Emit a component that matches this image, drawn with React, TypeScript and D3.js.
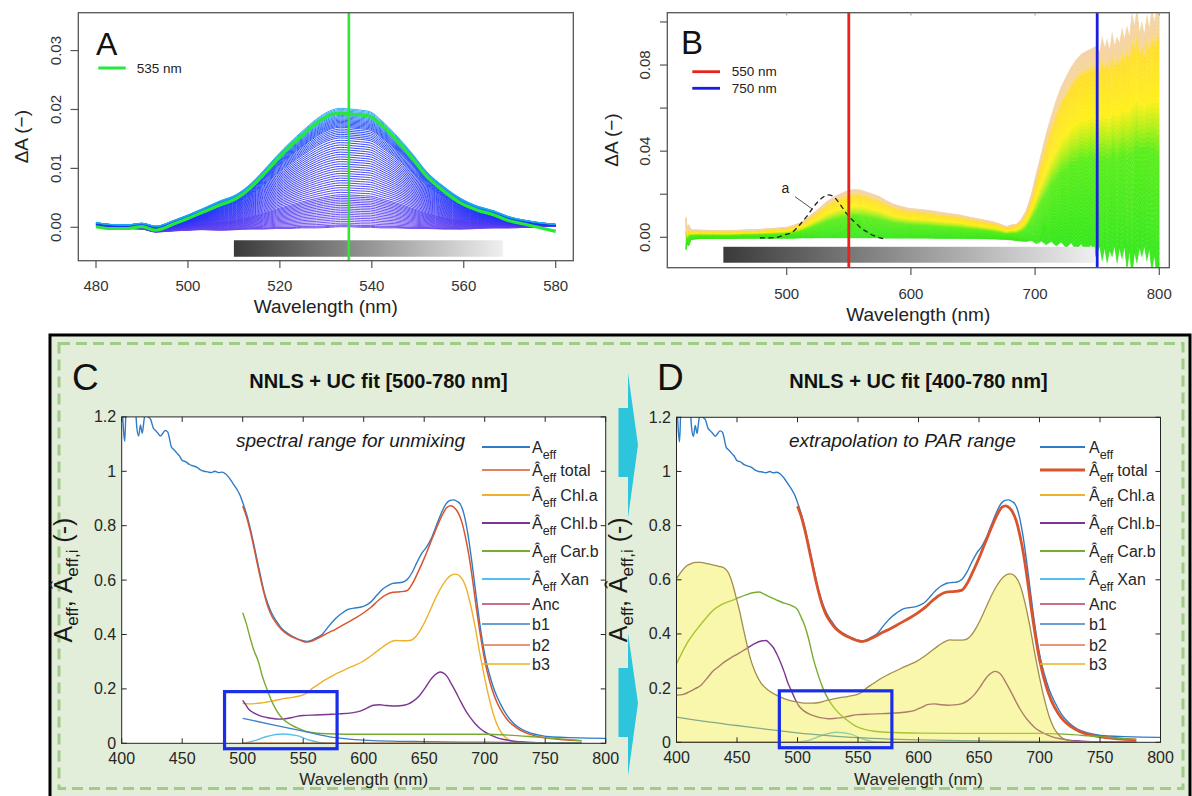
import React from "react";
import * as d3 from "d3";

type P = [number, number];
const FONT = "'Liberation Sans', Arial, Helvetica, sans-serif";

// ---------------- Panel A data ----------------
const A_WL = [480,483,486.6,490,493,497,500,503,507,510.6,513.5,516.4,519.3,522.2,525,528,531,533.2,535,537.5,539.7,542,545,548.5,552,555.7,559.4,563,566.6,569.5,574,580];
const A_GREEN = [0.0001,-0.0002,-0.0002,0.0001,-0.0005,0.0006,0.0015,0.0025,0.0038,0.0049,0.0066,0.0089,0.0114,0.0137,0.0157,0.0177,0.0191,0.0194,0.0192,0.0191,0.0188,0.0174,0.0151,0.012,0.0086,0.0061,0.0041,0.0029,0.0021,0.0012,0.0004,-0.0007];
const A_TOP = [0.0008,0.0005,0.0004,0.0007,0.0002,0.0012,0.0021,0.0031,0.0045,0.0056,0.0073,0.0096,0.0121,0.0144,0.0164,0.0184,0.0198,0.0202,0.0201,0.0199,0.0196,0.0182,0.0159,0.0128,0.0094,0.0069,0.0049,0.0036,0.0028,0.0019,0.0011,0.0005];
const A_BASE = [0.0002,-0.0001,-0.0002,-0.0003,-0.0008,-0.0006,-0.0005,-0.0004,-0.0005,-0.0004,-0.0003,-0.0003,-0.0002,-0.0002,-0.0001,-0.0001,0,0.0001,0.0001,0,0,-0.0001,-0.0001,-0.0002,-0.0002,-0.0003,-0.0003,-0.0002,-0.0001,-0.0001,0,0.0002];
const A_LEVELS = [0,0.008,0.016,0.03,0.045,0.06,0.075,0.09,0.105,0.12,0.135,0.15,0.165,0.18,0.195,0.21,0.225,0.24,0.255,0.27,0.29,0.31,0.33,0.35,0.37,0.39,0.41,0.43,0.45,0.47,0.49,0.51,0.53,0.55,0.57,0.59,0.61,0.63,0.65,0.67,0.69,0.71,0.73,0.75,0.765,0.78,0.795,0.81,0.825,0.84,0.85,0.86,0.87,0.88,0.89,0.9,0.91,0.92,0.93,0.94,0.95,0.96,0.97,0.98,0.99,1.0];
const A_XTICKS = [480,500,520,540,560,580];
const A_YTICKS = [0,0.01,0.02,0.03];
const A_MARK = 535;
const A_BAR = { from: 510, to: 568.5, top: -0.0022, bottom: -0.005 };

// ---------------- Panel B data ----------------
const B_WL = [419,420,421,423,430,440,452,465,478,490,500,505,511,516,521,527,532,538,543,548,554,559,564,570,575,580,586,593,599,606,613,620,626,633,640,646,653,660,666,672,677,681,685,689,693,697,701,705,709,713,717,721,725,729,733,737,741,745,749,752,754,756,758,760,762,764,766,768,770,772,774,776,778,780,782,784,786,788,790,792,794,796,798,800];
const B_TOP = [0.0096,0.002,0.006,0.0035,0.0034,0.0032,0.0031,0.0034,0.0037,0.0042,0.0047,0.0055,0.0068,0.0088,0.0112,0.014,0.0166,0.0188,0.0202,0.0215,0.0223,0.0221,0.0212,0.02,0.0189,0.0172,0.0155,0.0143,0.0135,0.0131,0.0127,0.0121,0.0115,0.011,0.0104,0.0096,0.0088,0.008,0.0073,0.0062,0.005,0.0058,0.0062,0.0085,0.0127,0.02,0.0298,0.039,0.0484,0.0565,0.0639,0.07,0.0747,0.079,0.0825,0.085,0.0864,0.0875,0.0887,0.086,0.093,0.088,0.092,0.087,0.095,0.089,0.093,0.09,0.097,0.092,0.098,0.093,0.104,0.098,0.106,0.095,0.1,0.094,0.103,0.097,0.106,0.1,0.106,0.104];
const B_BASE = [-0.006,-0.002,-0.004,-0.001,-0.0006,-0.0005,-0.0005,-0.0004,-0.0004,-0.0004,-0.0004,-0.0004,-0.0003,-0.0003,-0.0003,-0.0003,-0.0003,-0.0003,-0.0003,-0.0003,-0.0003,-0.0003,-0.0003,-0.0003,-0.0003,-0.0004,-0.0004,-0.0004,-0.0004,-0.0004,-0.0004,-0.0005,-0.0005,-0.0005,-0.0005,-0.0006,-0.0006,-0.0007,-0.0008,-0.0009,-0.001,-0.0012,-0.0015,-0.0018,-0.002,-0.0015,-0.003,-0.0018,-0.0035,-0.002,-0.004,-0.0022,-0.005,-0.0025,-0.006,-0.003,-0.007,-0.0035,-0.009,-0.004,-0.011,-0.005,-0.012,-0.006,-0.009,-0.004,-0.012,-0.005,-0.01,-0.004,-0.015,-0.006,-0.018,-0.007,-0.012,-0.005,-0.009,-0.004,-0.011,-0.005,-0.016,-0.008,-0.018,-0.016];
const B_LEVELS = [0,0.015,0.03,0.05,0.07,0.09,0.11,0.13,0.15,0.17,0.19,0.21,0.23,0.25,0.27,0.29,0.31,0.33,0.35,0.37,0.39,0.41,0.43,0.45,0.47,0.49,0.51,0.53,0.55,0.57,0.59,0.61,0.63,0.65,0.67,0.69,0.71,0.73,0.75,0.77,0.79,0.81,0.83,0.85,0.87,0.89,0.905,0.92,0.935,0.95,0.965,0.98,1.0];
const B_XTICKS = [500,600,700,800];
const B_YTICKS = [0,0.02,0.04,0.06,0.08,0.1];
const B_YLABELS = [0,0.04,0.08];
const B_MARKS = [{ nm: 550, color: "#e8221c", label: "550 nm" }, { nm: 750, color: "#1a1ee0", label: "750 nm" }];
const B_A_WL = [478.5,485,492,498,505,510,516,520,524,529,533.5,537,540.3,544,548.3,552,556.4,560,564.4,568,572.4,576,580.5];
const B_A_VAL = [-0.0002,-0.0003,0,0.0011,0.0026,0.0055,0.0096,0.0128,0.0158,0.0185,0.0197,0.0192,0.0174,0.0145,0.011,0.0085,0.0062,0.0042,0.0026,0.0013,0.0003,-0.0004,-0.0009];
const B_BAR = { from: 449, to: 748.2, top: -0.0044, bottom: -0.0118 };

// ---------------- Panels C / D data ----------------
const WL_TICKS = [400,450,500,550,600,650,700,750,800];
const ABS_TICKS = [0,0.2,0.4,0.6,0.8,1,1.2];
const ABS_LABELS = ["0","0.2","0.4","0.6","0.8","1","1.2"];

const AEFF: P[] = [[400,1.3],[401.5,1.15],[402.5,1.11],[403.5,1.22],[405,1.28],[408,1.32],[411,1.26],[412.5,1.16],[414,1.13],[415.5,1.17],[417,1.14],[418.5,1.19],[420,1.22],[422,1.2],[424,1.19],[426,1.16],[428,1.15],[430,1.14],[432,1.13],[434,1.14],[436,1.15],[438,1.145],[439.5,1.12],[441,1.09],[443,1.08],[446,1.065],[448,1.055],[450,1.04],[453,1.035],[456,1.025],[459,1.02],[462,1.015],[465,1.005],[468,1.0],[471,0.998],[474,0.995],[477,1.0],[480,0.995],[483,0.997],[486,0.99],[489,0.975],[492,0.955],[495,0.935],[498,0.91],[500,0.885],[503,0.845],[506,0.795],[509,0.735],[512,0.672],[515,0.61],[518,0.552],[521,0.51],[524,0.478],[528,0.448],[532,0.423],[538,0.402],[544,0.387],[549,0.378],[553,0.374],[558,0.381],[562,0.39],[566,0.402],[571,0.43],[577,0.46],[582,0.478],[587,0.492],[592,0.497],[597,0.5],[602,0.508],[606,0.52],[611,0.545],[616,0.568],[620,0.58],[624,0.588],[628,0.59],[632,0.592],[636,0.602],[640,0.628],[644,0.665],[648,0.698],[652,0.722],[656,0.755],[660,0.8],[664,0.845],[668,0.88],[671,0.892],[674,0.895],[677,0.89],[680,0.878],[683,0.84],[686,0.772],[689,0.68],[692,0.575],[695,0.47],[698,0.378],[701,0.305],[704,0.252],[708,0.195],[713,0.145],[718,0.105],[724,0.073],[731,0.05],[739,0.036],[747,0.028],[754,0.024],[770,0.021],[785,0.019],[800,0.018]];
const TOTAL: P[] = [[500,0.872],[503,0.835],[506,0.785],[509,0.725],[512,0.662],[515,0.6],[518,0.545],[521,0.5],[524,0.468],[528,0.44],[532,0.418],[538,0.398],[544,0.385],[549,0.376],[553,0.372],[558,0.377],[563,0.388],[570,0.405],[577,0.42],[585,0.44],[593,0.46],[600,0.48],[606,0.5],[612,0.525],[618,0.545],[624,0.555],[630,0.557],[636,0.562],[640,0.585],[645,0.63],[650,0.68],[655,0.735],[660,0.79],[665,0.84],[669,0.868],[672,0.873],[675,0.866],[678,0.848],[681,0.815],[684,0.76],[687,0.69],[690,0.6],[693,0.5],[696,0.41],[699,0.33],[702,0.265],[706,0.2],[710,0.152],[715,0.11],[720,0.08],[726,0.058],[733,0.04],[742,0.027],[752,0.019],[765,0.013],[780,0.009]];
const CHLA_C: P[] = [[500,0.147],[505,0.145],[510,0.146],[515,0.148],[520,0.152],[525,0.156],[530,0.16],[535,0.165],[540,0.168],[545,0.172],[550,0.178],[553,0.185],[557,0.2],[562,0.215],[568,0.233],[575,0.25],[582,0.265],[590,0.282],[598,0.298],[604,0.315],[610,0.335],[616,0.355],[621,0.37],[626,0.378],[632,0.377],[638,0.378],[643,0.392],[648,0.425],[653,0.47],[658,0.52],[663,0.565],[668,0.6],[672,0.617],[676,0.622],[680,0.612],[684,0.58],[688,0.515],[692,0.43],[696,0.33],[700,0.24],[704,0.16],[708,0.095],[712,0.052],[716,0.027],[720,0.013],[726,0.005],[735,0.001],[780,0]];
const CHLA_D: P[] = [[400,0.604],[404,0.63],[408,0.65],[412,0.66],[416,0.664],[420,0.664],[425,0.66],[430,0.655],[435,0.65],[440,0.642],[443,0.625],[446,0.59],[449,0.54],[452,0.487],[455,0.425],[458,0.365],[461,0.31],[465,0.26],[470,0.218],[475,0.195],[480,0.18],[486,0.167],[492,0.157],[498,0.15],[505,0.145],[512,0.145],[518,0.147],[524,0.155],[530,0.16],[535,0.165],[540,0.168],[545,0.172],[550,0.178],[553,0.185],[557,0.2],[562,0.215],[568,0.233],[575,0.25],[582,0.265],[590,0.282],[598,0.298],[604,0.315],[610,0.335],[616,0.355],[621,0.37],[626,0.378],[632,0.377],[638,0.378],[643,0.392],[648,0.425],[653,0.47],[658,0.52],[663,0.565],[668,0.6],[672,0.617],[676,0.622],[680,0.612],[684,0.58],[688,0.515],[692,0.43],[696,0.33],[700,0.24],[704,0.16],[708,0.095],[712,0.052],[716,0.027],[720,0.013],[726,0.005],[735,0.001],[780,0]];
const CHLB_C: P[] = [[500,0.158],[502,0.145],[505,0.125],[510,0.11],[515,0.1],[520,0.095],[525,0.091],[530,0.089],[535,0.09],[540,0.094],[545,0.099],[550,0.102],[560,0.104],[570,0.106],[580,0.108],[590,0.112],[597,0.118],[603,0.13],[608,0.14],[613,0.142],[618,0.139],[624,0.137],[630,0.138],[636,0.143],[641,0.155],[646,0.175],[651,0.205],[655,0.232],[659,0.252],[663,0.262],[666,0.258],[669,0.245],[672,0.222],[676,0.19],[680,0.155],[684,0.122],[688,0.095],[692,0.073],[696,0.055],[700,0.042],[705,0.03],[710,0.021],[716,0.014],[724,0.008],[735,0.004],[750,0.001],[780,0]];
const CHLB_D: P[] = [[400,0.174],[405,0.176],[410,0.185],[415,0.197],[420,0.21],[425,0.235],[430,0.262],[435,0.28],[440,0.298],[445,0.312],[450,0.325],[455,0.338],[460,0.352],[465,0.365],[470,0.374],[474,0.376],[477,0.365],[480,0.35],[483,0.325],[486,0.295],[489,0.26],[492,0.22],[495,0.19],[498,0.16],[501,0.135],[505,0.117],[510,0.104],[515,0.096],[520,0.09],[525,0.087],[530,0.088],[535,0.09],[540,0.094],[545,0.099],[550,0.102],[560,0.104],[570,0.106],[580,0.108],[590,0.112],[597,0.118],[603,0.13],[608,0.14],[613,0.142],[618,0.139],[624,0.137],[630,0.138],[636,0.143],[641,0.155],[646,0.175],[651,0.205],[655,0.232],[659,0.252],[663,0.262],[666,0.258],[669,0.245],[672,0.222],[676,0.19],[680,0.155],[684,0.122],[688,0.095],[692,0.073],[696,0.055],[700,0.042],[705,0.03],[710,0.021],[716,0.014],[724,0.008],[735,0.004],[750,0.001],[780,0]];
const CARB_C: P[] = [[500,0.48],[503,0.44],[506,0.39],[509,0.345],[513,0.3],[516,0.25],[520,0.2],[524,0.155],[528,0.12],[533,0.09],[540,0.068],[547,0.053],[553,0.043],[560,0.038],[570,0.035],[600,0.033],[650,0.033],[700,0.033],[720,0.03],[740,0.024],[760,0.017],[780,0.01]];
const CARB_D: P[] = [[400,0.29],[405,0.335],[410,0.375],[415,0.407],[420,0.435],[425,0.462],[430,0.487],[435,0.503],[440,0.514],[446,0.524],[452,0.535],[458,0.545],[463,0.552],[468,0.555],[472,0.548],[477,0.537],[482,0.527],[487,0.517],[492,0.51],[496,0.503],[500,0.49],[503,0.462],[506,0.43],[509,0.385],[513,0.31],[517,0.25],[521,0.2],[526,0.155],[532,0.118],[540,0.085],[548,0.06],[556,0.047],[565,0.04],[580,0.036],[600,0.034],[650,0.033],[700,0.033],[720,0.03],[740,0.024],[760,0.017],[780,0.01]];
const XAN_C: P[] = [[500,0],[510,0.01],[520,0.025],[533,0.034],[545,0.028],[555,0.012],[565,0.002],[575,0]];
const XAN_D: P[] = [[500,0],[510,0.008],[520,0.025],[532,0.037],[544,0.03],[553,0.014],[562,0.003],[572,0]];
const B1_C: P[] = [[500,0.092],[525,0.068],[550,0.045],[575,0.022],[600,0.012],[650,0.006],[700,0.004],[780,0.002]];
const B1_D: P[] = [[400,0.093],[425,0.076],[450,0.062],[475,0.048],[500,0.035],[525,0.025],[550,0.017],[575,0.012],[600,0.009],[650,0.005],[700,0.003],[780,0.001]];
const ZERO_C: P[] = [[500,0],[780,0]];
const ZERO_D: P[] = [[400,0],[780,0]];
const BOX_WL: P = [485, 578];
const BOX_ABS: P = [-0.02, 0.19];

const LEGEND = [
  { key: "aeff", main: "A", sub: "eff", rest: "" },
  { key: "total", main: "Â", sub: "eff", rest: "total" },
  { key: "chla", main: "Â", sub: "eff", rest: "Chl.a" },
  { key: "chlb", main: "Â", sub: "eff", rest: "Chl.b" },
  { key: "carb", main: "Â", sub: "eff", rest: "Car.b" },
  { key: "xan", main: "Â", sub: "eff", rest: "Xan" },
  { key: "anc", main: "Anc", sub: "", rest: "" },
  { key: "b1", main: "b1", sub: "", rest: "" },
  { key: "b2", main: "b2", sub: "", rest: "" },
  { key: "b3", main: "b3", sub: "", rest: "" },
];
const LEGEND_ROWS = [447, 470, 495, 523, 551, 579, 604, 624, 645, 664];

const COLORS: Record<string, string> = {
  aeff: "#2f7cc6", total: "#d9542b", chla: "#eeb12a", chlb: "#7e3592", carb: "#77ac30",
  xan: "#55bfee", anc: "#b8405e", b1: "#3a80c4", b2: "#e07553", b3: "#edb120",
};

const lineP = (xs: any, ys: any, pts: P[]) =>
  d3.line<P>().x(d => xs(d[0])).y(d => ys(d[1])).curve(d3.curveMonotoneX)(pts) || "";

function SpectraPanel(props: any) {
  const { id, xr, yr, curves, patch, title, titleX, note, noteX, letter, letterX, lx0, lx1, ltx, totalW, labelX } = props;
  const x = d3.scaleLinear().domain([400, 800]).range(xr);
  const y = d3.scaleLinear().domain([0, 1.2]).range(yr);
  const [L, R] = xr;
  const [B, T] = yr;
  const ink = "#262626";
  return (
    <g>
      <defs>
        <clipPath id={id}><rect x={L} y={T} width={R - L} height={B - T} /></clipPath>
      </defs>
      <text x={letterX} y={390} fontSize={37} fill="#111">{letter}</text>
      <text x={titleX} y={388} fontSize={20} fontWeight="bold" textAnchor="middle" fill="#111">{title}</text>
      <rect x={L} y={T} width={R - L} height={B - T} fill="#fff" />
      <g clipPath={`url(#${id})`}>
        {curves.map((c: any) => (
          <path key={c.key} d={lineP(x, y, c.data)} fill="none" stroke={COLORS[c.key]}
            strokeWidth={c.key === "total" ? totalW : (c.w || 1.4)} />
        ))}
        {patch && (
          <g>
            <path d={d3.area<P>().x(d => x(d[0])).y0(y(0)).y1(d => y(d[1])).curve(d3.curveMonotoneX)(patch) || ""}
              fill="#f0ec30" fillOpacity={0.4} stroke="none" />
            <path d={lineP(x, y, patch)} fill="none" stroke="#a38d4c" strokeWidth={1.3} />
          </g>
        )}
      </g>
      <rect x={L} y={T} width={R - L} height={B - T} fill="none" stroke={ink} strokeWidth={1} />
      {WL_TICKS.map(t => (
        <g key={"xt" + t}>
          <line x1={x(t)} x2={x(t)} y1={B} y2={B - 5} stroke={ink} />
          <line x1={x(t)} x2={x(t)} y1={T} y2={T + 5} stroke={ink} />
          <text x={x(t)} y={B + 21} fontSize={16} textAnchor="middle" fill={ink}>{t}</text>
        </g>
      ))}
      {ABS_TICKS.map((t, i) => (
        <g key={"yt" + t}>
          <line x1={L} x2={L + 5} y1={y(t)} y2={y(t)} stroke={ink} />
          <line x1={R} x2={R - 5} y1={y(t)} y2={y(t)} stroke={ink} />
          <text x={L - 5.5} y={y(t) + 5.5} fontSize={16} textAnchor="end" fill={ink}>{ABS_LABELS[i]}</text>
        </g>
      ))}
      <rect x={x(BOX_WL[0])} y={y(BOX_ABS[1])} width={x(BOX_WL[1]) - x(BOX_WL[0])} height={y(BOX_ABS[0]) - y(BOX_ABS[1])}
        fill="none" stroke="#1a2ee8" strokeWidth={3.2} />
      <text x={noteX} y={447} fontSize={19} fontStyle="italic" fill="#1a1a1a">{note}</text>
      {LEGEND.map((it, i) => {
        const ry = LEGEND_ROWS[i];
        const thick = i < 6;
        return (
          <g key={it.key}>
            <line x1={lx0} x2={lx1} y1={ry} y2={ry} stroke={COLORS[it.key]}
              strokeWidth={it.key === "total" ? totalW : thick ? 2 : 1.3} />
            <text x={ltx} y={ry + 5.5} fontSize={16} fill={ink}>
              <tspan>{it.main}</tspan>
              {it.sub ? <tspan fontSize={12.5} dy={6}>{it.sub}</tspan> : null}
              {it.rest ? <tspan dy={-6} dx={4}>{it.rest}</tspan> : null}
            </text>
          </g>
        );
      })}
      <text x={(L + R) / 2} y={785} fontSize={17} textAnchor="middle" fill={ink}>Wavelength (nm)</text>
      <text transform={`translate(${labelX}, ${(T + B) / 2}) rotate(-90)`} fontSize={25} textAnchor="middle" fill="#1a1a1a">
        <tspan>A</tspan><tspan fontSize={17} dy={6}>eff</tspan><tspan dy={-6}>, Â</tspan>
        <tspan fontSize={17} dy={6}>eff,i</tspan><tspan dy={-6}> (-)</tspan>
      </text>
    </g>
  );
}

export default function App() {
  // ---- Panel A scales
  const xA = d3.scaleLinear().domain([476.15, 583.83]).range([78.3, 573.3]);
  const yA = d3.scaleLinear().domain([-0.00567, 0.03643]).range([260.7, 12.7]);
  const aColor = d3.scaleLinear<string>().domain([0, 0.35, 0.7, 0.9, 0.94, 1])
    .range(["#6a46ee", "#3e36f4", "#1f30fa", "#1c4ef8", "#1c86f4", "#1eaaf2"]);
  const aCurves = A_LEVELS.map(f => A_WL.map((w, k) => [w, A_BASE[k] + f * (A_TOP[k] - A_BASE[k])] as P));
  const aGreen = A_WL.map((w, k) => [w, A_GREEN[k]] as P);
  const lineA = d3.line<P>().x(d => xA(d[0])).y(d => yA(d[1])).curve(d3.curveMonotoneX);

  // ---- Panel B scales
  const xB = d3.scaleLinear().domain([403.87, 808.05]).range([667.3, 1169.3]);
  const yB = d3.scaleLinear().domain([-0.01411, 0.1043]).range([267.7, 12.7]);
  const bColor = d3.scaleLinear<string>().domain([0, 0.45, 0.56, 0.66, 0.88, 0.92, 1])
    .range(["#34e81a", "#5cee1e", "#b8f018", "#fff01c", "#ffde2e", "#f7d69a", "#f5d2a6"]);
  const bLevel = (f: number) => B_WL.map((w, k) => B_BASE[k] + f * (B_TOP[k] - B_BASE[k]));
  const bBands = B_LEVELS.slice(1).map((f, i) => {
    const lo = bLevel(B_LEVELS[i]);
    const hi = bLevel(f);
    const pts = B_WL.map((w, k) => ({ w, lo: lo[k], hi: hi[k] }));
    return {
      d: d3.area<any>().x(p => xB(p.w)).y0(p => yB(p.lo)).y1(p => yB(p.hi))(pts) || "",
      c: bColor((B_LEVELS[i] + f) / 2),
    };
  });
  const bA = B_A_WL.map((w, k) => [w, B_A_VAL[k]] as P);
  const lineB = d3.line<P>().x(d => xB(d[0])).y(d => yB(d[1])).curve(d3.curveMonotoneX);

  const axisInk = "#555";
  const tickInk = "#333";

  const arrow = (top: number, sTop: number, apex: number, sBot: number, bot: number) =>
    `M628,${top} L638,${apex} L628,${bot} L628,${sBot} L618.5,${sBot} L618.5,${sTop} L628,${sTop} Z`;

  return (
    <svg width={1192} height={796} style={{ position: "absolute", left: 0, top: 0, background: "#fff" }} fontFamily={FONT}>
      <defs>
        <clipPath id="clipA"><rect x={78.3} y={12.7} width={495} height={248} /></clipPath>
        <clipPath id="clipB"><rect x={667.3} y={12.7} width={502} height={255} /></clipPath>
        <linearGradient id="grayGrad" x1="0" x2="1" y1="0" y2="0">
          <stop offset="0" stopColor="#3a3a3a" />
          <stop offset="1" stopColor="#efefef" />
        </linearGradient>
      </defs>

      {/* ================= Panel A ================= */}
      <g clipPath="url(#clipA)">
        {aCurves.map((c, i) => (
          <path key={i} d={lineA(c) || ""} fill="none" stroke={aColor(A_LEVELS[i])} strokeWidth={1} strokeOpacity={0.9} />
        ))}
        <path d={lineA(aGreen) || ""} fill="none" stroke="#25e83a" strokeWidth={3.2} />
      </g>
      <rect x={xA(A_BAR.from)} y={yA(A_BAR.top)} width={xA(A_BAR.to) - xA(A_BAR.from)} height={yA(A_BAR.bottom) - yA(A_BAR.top)} fill="url(#grayGrad)" />
      <line x1={xA(A_MARK)} x2={xA(A_MARK)} y1={12.7} y2={260.7} stroke="#2ee82e" strokeWidth={2.6} />
      <rect x={78.3} y={12.7} width={495} height={248} fill="none" stroke={axisInk} strokeWidth={1.3} />
      {A_XTICKS.map(t => (
        <g key={"ax" + t}>
          <line x1={xA(t)} x2={xA(t)} y1={260.7} y2={268} stroke={axisInk} strokeWidth={1.2} />
          <text x={xA(t)} y={291} fontSize={15} textAnchor="middle" fill={tickInk}>{t}</text>
        </g>
      ))}
      {A_YTICKS.map(t => (
        <g key={"ay" + t}>
          <line x1={70.5} x2={78.3} y1={yA(t)} y2={yA(t)} stroke={axisInk} strokeWidth={1.2} />
          <text transform={`translate(61, ${yA(t)}) rotate(-90)`} fontSize={15} textAnchor="middle" fill={tickInk}>{t.toFixed(2)}</text>
        </g>
      ))}
      <text x={325.8} y={313} fontSize={19} textAnchor="middle" fill="#222">Wavelength (nm)</text>
      <text transform={`translate(28, 136.7) rotate(-90)`} fontSize={19} textAnchor="middle" fill="#222">ΔA (−)</text>
      <text x={96} y={55} fontSize={32} fill="#111">A</text>
      <line x1={98.3} x2={125.7} y1={68} y2={68} stroke="#25e83a" strokeWidth={3} />
      <text x={136.7} y={72.7} fontSize={13.5} fill="#222">{A_MARK} nm</text>

      {/* ================= Panel B ================= */}
      <g clipPath="url(#clipB)">
        {bBands.map((b, i) => (
          <path key={i} d={b.d} fill={b.c} stroke={b.c} strokeWidth={0.4} />
        ))}
      </g>
      <path d={lineB(bA) || ""} fill="none" stroke="#222" strokeWidth={1.3} strokeDasharray="5 3.5" />
      <text x={785.5} y={193} fontSize={14} textAnchor="middle" fill="#222">a</text>
      <line x1={795} x2={812.7} y1={196.7} y2={209.3} stroke="#555" strokeWidth={1} />
      <rect x={xB(B_BAR.from)} y={yB(B_BAR.top)} width={xB(B_BAR.to) - xB(B_BAR.from)} height={yB(B_BAR.bottom) - yB(B_BAR.top)} fill="url(#grayGrad)" />
      {B_MARKS.map(m => (
        <line key={"bm" + m.nm} x1={xB(m.nm)} x2={xB(m.nm)} y1={12.7} y2={267.7} stroke={m.color} strokeWidth={2.8} />
      ))}
      <rect x={667.3} y={12.7} width={502} height={255} fill="none" stroke={axisInk} strokeWidth={1.3} />
      {B_XTICKS.map(t => (
        <g key={"bx" + t}>
          <line x1={xB(t)} x2={xB(t)} y1={267.7} y2={275} stroke={axisInk} strokeWidth={1.2} />
          <line x1={xB(t)} x2={xB(t)} y1={12.7} y2={15.5} stroke="#999" strokeWidth={1} />
          <text x={xB(t)} y={298.5} fontSize={15} textAnchor="middle" fill={tickInk}>{t}</text>
        </g>
      ))}
      {B_YTICKS.map(t => (
        <line key={"byt" + t} x1={660} x2={667.3} y1={yB(t)} y2={yB(t)} stroke={axisInk} strokeWidth={1.2} />
      ))}
      {B_YLABELS.map(t => (
        <text key={"byl" + t} transform={`translate(650, ${yB(t)}) rotate(-90)`} fontSize={15} textAnchor="middle" fill={tickInk}>{t.toFixed(2)}</text>
      ))}
      <text x={918.3} y={321} fontSize={19} textAnchor="middle" fill="#222">Wavelength (nm)</text>
      <text transform={`translate(618, 140) rotate(-90)`} fontSize={19} textAnchor="middle" fill="#222">ΔA (−)</text>
      <text x={681} y={54.3} fontSize={33} fill="#111">B</text>
      {B_MARKS.map((m, i) => (
        <g key={"bl" + m.nm}>
          <line x1={692.3} x2={720} y1={71.7 + i * 16.6} y2={71.7 + i * 16.6} stroke={m.color} strokeWidth={2.8} />
          <text x={731.7} y={76.4 + i * 16.6} fontSize={13.5} fill="#222">{m.label}</text>
        </g>
      ))}

      {/* ================= C / D frame ================= */}
      <rect x={50} y={335} width={1140} height={470} fill="#e2eed9" stroke="#000" strokeWidth={3} />
      <rect x={59} y={343.5} width={1124} height={445} fill="none" stroke="#9fcc86" strokeWidth={3} strokeDasharray="11 6" />

      <SpectraPanel id="clipC" xr={[121.7, 605.7]} yr={[743.3, 416.9]}
        curves={[
          { key: "aeff", data: AEFF }, { key: "total", data: TOTAL }, { key: "chla", data: CHLA_C },
          { key: "chlb", data: CHLB_C }, { key: "carb", data: CARB_C }, { key: "xan", data: XAN_C },
          { key: "anc", data: ZERO_C, w: 1 }, { key: "b1", data: B1_C, w: 1.3 }, { key: "b2", data: ZERO_C, w: 1 },
          { key: "b3", data: ZERO_C, w: 1.3 },
        ]}
        title="NNLS + UC fit [500-780 nm]" titleX={378.5}
        note="spectral range for unmixing" noteX={236}
        letter="C" letterX={72} lx0={482} lx1={530} ltx={532} totalW={1.5} labelX={71.7} />

      {/* cyan arrows between C and D */}
      <path d={arrow(373, 408, 445, 477, 518)} fill="#2cc5dc" />
      <path d={arrow(633, 668, 703, 737, 776)} fill="#2cc5dc" />

      <SpectraPanel id="clipD" xr={[676.5, 1160.5]} yr={[742.3, 417.3]}
        curves={[
          { key: "aeff", data: AEFF }, { key: "total", data: TOTAL },
          { key: "chlb", data: CHLB_D }, { key: "carb", data: CARB_D }, { key: "xan", data: XAN_D },
          { key: "anc", data: ZERO_D, w: 1 }, { key: "b1", data: B1_D, w: 1.3 }, { key: "b2", data: ZERO_D, w: 1 },
          { key: "b3", data: ZERO_D, w: 1.3 },
        ]}
        patch={CHLA_D}
        title="NNLS + UC fit [400-780 nm]" titleX={918.4}
        note="extrapolation to PAR range" noteX={789}
        letter="D" letterX={657} lx0={1040} lx1={1085} ltx={1089} totalW={2.8} labelX={626.5} />
    </svg>
  );
}
